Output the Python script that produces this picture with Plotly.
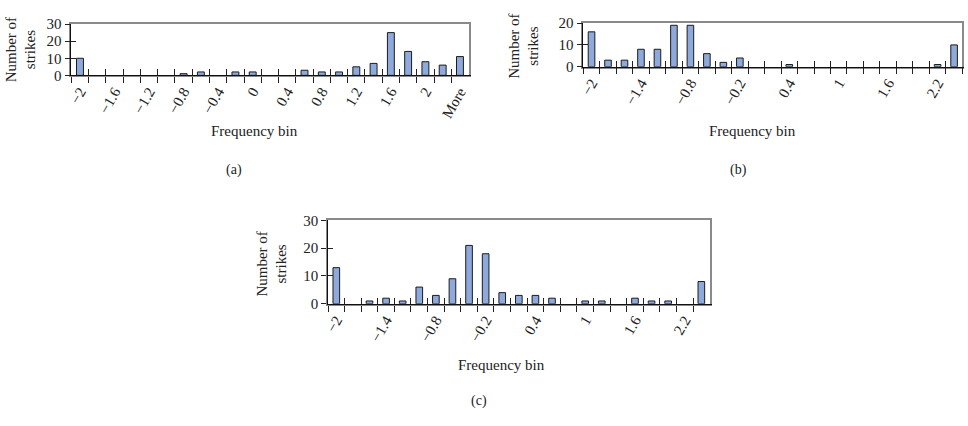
import plotly.graph_objects as go

categories = ["−2", "−1.8", "−1.6", "−1.4", "−1.2", "−1", "−0.8", "−0.6", "−0.4", "−0.2",
              "0", "0.2", "0.4", "0.6", "0.8", "1", "1.2", "1.4", "1.6", "1.8", "2", "2.2", "More"]
strikes_a = [10, 0, 0, 0, 0, 0, 1, 2, 0, 2, 2, 0, 0, 3, 2, 2, 5, 7, 25, 14, 8, 6, 11]
strikes_b = [16, 3, 3, 8, 8, 19, 19, 6, 2, 4, 0, 0, 1, 0, 0, 0, 0, 0, 0, 0, 0, 1, 10]
strikes_c = [13, 0, 1, 2, 1, 6, 3, 9, 21, 18, 4, 3, 3, 2, 0, 1, 1, 0, 2, 1, 1, 0, 8]
label_step = {"a": 2, "b": 3, "c": 3}
y_max = {"a": 30, "b": 20, "c": 30}
panel_titles = ["(a)", "(b)", "(c)"]
x_title = "Frequency bin"
y_title = "Number of<br>strikes"

W, H = 968, 426
FONT = "Liberation Serif, Times New Roman, serif"
BAR_FILL = "#8EA9DB"
BAR_LINE = "#1c1c1c"
FS = 15

# plot-area boxes in pixels: (left, right, top, bottom)
boxes = {
    "a": (67.7, 467.0, 16.7, 70.0),
    "b": (582.3, 963.3, 15.7, 61.0),
    "c": (325.7, 709.3, 220.7, 307.3),
}
series = {"a": strikes_a, "b": strikes_b, "c": strikes_c}

fig = go.Figure()
layout = {}
n = len(categories)
for i, key in enumerate(["a", "b", "c"]):
    l, r, t, b = boxes[key]
    xd = [l / W, r / W]
    yd = [1 - b / H, 1 - t / H]
    bx = "x" if i == 0 else f"x{i+1}"
    by = "y" if i == 0 else f"y{i+1}"
    ox_n, oy_n = i + 4, i + 4
    ox, oy = f"x{ox_n}", f"y{oy_n}"
    step = label_step[key]
    ticktext = [c if j % step == 0 else "" for j, c in enumerate(categories)]
    yvals = [v if v else None for v in series[key]]

    fig.add_trace(go.Bar(x=categories, y=yvals, xaxis=bx, yaxis=by,
                         marker=dict(color=BAR_FILL, line=dict(color=BAR_LINE, width=1)),
                         showlegend=False, hoverinfo="skip"))
    fig.add_trace(go.Scatter(x=categories, y=series[key], xaxis=ox, yaxis=oy,
                             mode="markers", marker=dict(opacity=0),
                             showlegend=False, hoverinfo="skip"))

    bxn = "xaxis" if i == 0 else f"xaxis{i+1}"
    byn = "yaxis" if i == 0 else f"yaxis{i+1}"
    layout[bxn] = dict(domain=xd, anchor=by, type="category",
                       categoryorder="array", categoryarray=categories,
                       range=[-0.5, n - 0.5],
                       tickmode="array", tickvals=categories, ticktext=ticktext,
                       tickson="boundaries", ticks="outside", ticklen=6, tickwidth=1,
                       tickcolor="#222", tickangle=-60,
                       tickfont=dict(family=FONT, size=FS, color="#222"),
                       showline=True, linecolor="#8a8a8a", linewidth=1.5, mirror=True,
                       showgrid=False, zeroline=False, fixedrange=True)
    layout[byn] = dict(domain=yd, anchor=bx, range=[0, y_max[key]], dtick=10,
                       ticks="outside", ticklen=5, tickwidth=1, tickcolor="#222",
                       tickfont=dict(family=FONT, size=FS, color="#222"),
                       showline=True, linecolor="#8a8a8a", linewidth=1.5, mirror=True,
                       showgrid=False, zeroline=False, fixedrange=True)
    layout[f"xaxis{ox_n}"] = dict(overlaying=bx, anchor=oy, type="category",
                                  categoryorder="array", categoryarray=categories,
                                  range=[-0.5, n - 0.5], side="bottom",
                                  tickmode="array", tickvals=categories,
                                  tickson="boundaries", ticks="inside", ticklen=6,
                                  tickwidth=1, tickcolor="#222", showticklabels=False,
                                  showline=True, linecolor="#111", linewidth=1,
                                  showgrid=False, zeroline=False, fixedrange=True)
    layout[f"yaxis{oy_n}"] = dict(overlaying=by, anchor=ox, range=[0, y_max[key]], dtick=10,
                                  side="left", ticks="inside", ticklen=5, tickwidth=1,
                                  tickcolor="#222", showticklabels=False,
                                  showline=True, linecolor="#111", linewidth=1,
                                  showgrid=False, zeroline=False, fixedrange=True)

# text positions in pixels (centres)
xtitle_pos = {"a": (252, 128), "b": (752, 128), "c": (500, 371)}
ytitle_pos = {"a": (17, 43), "b": (523, 40), "c": (269, 266)}
panel_pos = {"a": (231, 168), "b": (738, 168), "c": (477, 408)}
annotations = []
for i, key in enumerate(["a", "b", "c"]):
    common = dict(xref="paper", yref="paper", showarrow=False,
                  xanchor="center", yanchor="middle")
    px, py = xtitle_pos[key]
    annotations.append(dict(text=x_title, x=px / W, y=1 - py / H,
                            font=dict(family=FONT, size=FS, color="#222"), **common))
    px, py = ytitle_pos[key]
    annotations.append(dict(text=y_title, x=px / W, y=1 - py / H, textangle=-90,
                            font=dict(family=FONT, size=FS, color="#222"), **common))
    px, py = panel_pos[key]
    annotations.append(dict(text=panel_titles[i], x=px / W, y=1 - py / H,
                            font=dict(family=FONT, size=14, color="#222"), **common))

fig.update_layout(width=W, height=H, margin=dict(l=0, r=0, t=0, b=0),
                  paper_bgcolor="white", plot_bgcolor="white",
                  bargap=0.6, annotations=annotations, **layout)
fig.write_html("out.html", config={"displayModeBar": False})
